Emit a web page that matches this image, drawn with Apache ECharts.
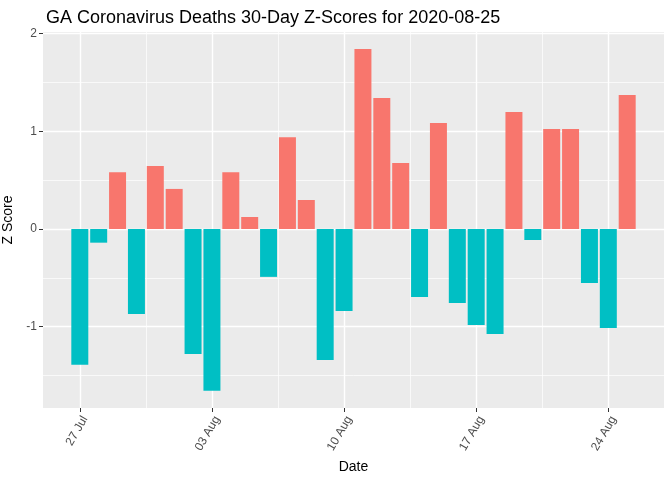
<!DOCTYPE html>
<html>
<head>
<meta charset="utf-8">
<script src="https://cdn.jsdelivr.net/npm/echarts@6/dist/echarts.min.js"></script>
<style>html,body{margin:0;padding:0;background:#fff}#c{width:672px;height:480px}</style>
</head>
<body>
<div id="c"></div>
<script>
// Day offsets from 27 Jul 2020
const dayIndex = [0,1,2,3,4,5,6,7,8,9,10,11,12,13,14,15,16,17,18,19,20,21,22,23,24,25,26,27,28,29];
const zScores = [-1.39,-0.14,0.58,-0.87,0.645,0.41,-1.28,-1.655,0.58,0.123,-0.49,0.94,0.297,-1.34,-0.84,1.843,1.34,0.676,-0.696,1.085,-0.758,-0.983,-1.075,1.198,-0.113,1.024,1.024,-0.553,-1.014,1.372];
const xTickDays = [0,7,14,21,28];
const xTickLabels = ['27 Jul','03 Aug','10 Aug','17 Aug','24 Aug'];
const xMinorDays = [3.5,10.5,17.5,24.5];
const yTicks = [-1,0,1,2];
const yMinor = [-1.5,-0.5,0.5,1.5];

const X_MIN = -1.95, X_MAX = 30.95, Y_MIN = -1.832, Y_MAX = 2.016;
const G = {left: 43, right: 8, top: 32, bottom: 72};
const gridW = 672 - G.left - G.right;
const barW = 0.9 * gridW / (X_MAX - X_MIN);
const font = 'Liberation Sans, Arial, sans-serif';

const chart = echarts.init(document.getElementById('c'));
const hidden = {show: false, onZero: false};
chart.setOption({
  animation: false,
  backgroundColor: '#ffffff',
  title: {
    text: 'GA Coronavirus Deaths 30-Day Z-Scores for 2020-08-25',
    left: 41, top: 4,
    textStyle: {fontFamily: font, fontSize: 18, fontWeight: 'normal', color: '#000'}
  },
  grid: Object.assign({backgroundColor: '#EBEBEB', show: true, borderWidth: 0, containLabel: false, outerBoundsMode: 'none'}, G),
  xAxis: [
    {
      type: 'value', min: X_MIN, max: X_MAX,
      name: 'Date', nameLocation: 'middle', nameGap: 52,
      nameTextStyle: {fontFamily: font, fontSize: 14, color: '#000'},
      axisLine: hidden,
      axisTick: {show: true, customValues: xTickDays, length: 4, lineStyle: {color: '#333333', width: 1}},
      axisLabel: {customValues: xTickDays, rotate: 60, margin: 6, verticalAlign: 'top', fontFamily: font, fontSize: 12, color: '#4D4D4D',
        formatter: v => xTickLabels[xTickDays.indexOf(v)] || ''},
      splitLine: {show: true, lineStyle: {color: '#ffffff', width: 1.4}}
    },
    {
      type: 'value', min: X_MIN, max: X_MAX, position: 'bottom',
      axisLine: hidden, axisLabel: {show: false, customValues: xMinorDays},
      axisTick: {show: false, customValues: xMinorDays},
      splitLine: {show: true, lineStyle: {color: '#ffffff', width: 0.7}}
    }
  ],
  yAxis: [
    {
      type: 'value', min: Y_MIN, max: Y_MAX,
      name: 'Z Score', nameLocation: 'middle', nameGap: 18, nameRotate: 90,
      nameTextStyle: {fontFamily: font, fontSize: 14, color: '#000'},
      axisLine: hidden,
      axisTick: {show: true, customValues: yTicks, length: 4, lineStyle: {color: '#333333', width: 1}},
      axisLabel: {customValues: yTicks, margin: 6, fontFamily: font, fontSize: 12, color: '#4D4D4D'},
      splitLine: {show: true, lineStyle: {color: '#ffffff', width: 1.4}}
    },
    {
      type: 'value', min: Y_MIN, max: Y_MAX, position: 'left',
      axisLine: hidden, axisLabel: {show: false, customValues: yMinor},
      axisTick: {show: false, customValues: yMinor},
      splitLine: {show: true, lineStyle: {color: '#ffffff', width: 0.7}}
    }
  ],
  series: [{
    type: 'bar',
    xAxisIndex: 0, yAxisIndex: 0,
    barWidth: barW,
    data: dayIndex.map((d, i) => [d, zScores[i]]),
    itemStyle: {color: p => p.value[1] >= 0 ? '#F8766D' : '#00BFC4'}
  }]
});
</script>
</body>
</html>
